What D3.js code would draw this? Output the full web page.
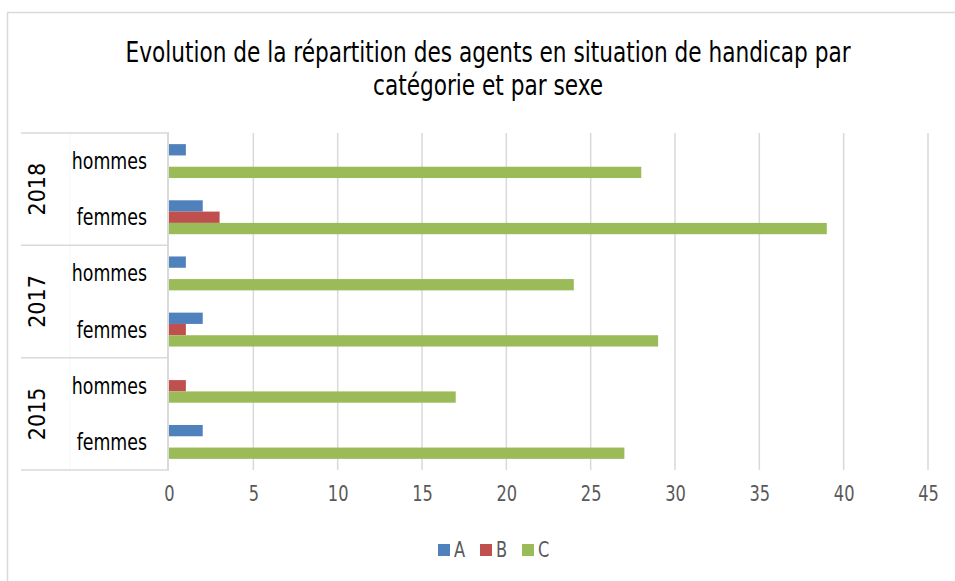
<!DOCTYPE html>
<html lang="fr">
<head>
<meta charset="utf-8">
<title>Handicap</title>
<script src="https://cdnjs.cloudflare.com/ajax/libs/d3/7.8.5/d3.min.js"></script>
<style>
  body { margin: 0; background: #fff; }
  svg text { font-family: "DejaVu Sans Condensed", "Liberation Sans Narrow", sans-serif; }
</style>
</head>
<body>
<div id="chart"></div>
<script>
// data, top of the chart first
const years = ["2018", "2017", "2015"];
const sexes = ["hommes", "femmes"];
const series = ["A", "B", "C"];
const valuesA = [1, 2, 1, 2, 0, 2];
const valuesB = [0, 3, 0, 1, 1, 0];
const valuesC = [28, 39, 24, 29, 17, 27];
const xTicks = [0, 5, 10, 15, 20, 25, 30, 35, 40, 45];
const colors = ["#4f81bd", "#c0504d", "#9bbb59"];

const width = 955, height = 581;
const margin = {left: 169, right: 27, top: 133, bottom: 111};
const squeeze = 0.86; // the original font is narrower than anything installed

const rows = [];
years.forEach(y => sexes.forEach(s => rows.push({year: y, sex: s, key: y + "-" + s})));
rows.forEach((r, i) => { r.A = valuesA[i]; r.B = valuesB[i]; r.C = valuesC[i]; });

const svg = d3.select("#chart").append("svg")
  .attr("width", width).attr("height", height);

// outer border
svg.append("rect")
  .attr("x", 7.5).attr("y", 12.5)
  .attr("width", width).attr("height", height)
  .attr("fill", "none").attr("stroke", "#d9d9d9").attr("stroke-width", 1.5);

// title
const title = svg.append("g")
  .attr("transform", "translate(488,0) scale(0.875,1)")
  .append("text")
  .attr("text-anchor", "middle")
  .attr("font-size", 27.5)
  .attr("fill", "#000");
title.append("tspan").attr("x", 0).attr("y", 62)
  .text("Evolution de la répartition des agents en situation de handicap par");
title.append("tspan").attr("x", 0).attr("y", 95)
  .text("catégorie et par sexe");

const xScale = d3.scaleLinear().domain([0, 45])
  .range([margin.left, width - margin.right]);

const yScale = d3.scaleBand().domain(rows.map(d => d.key))
  .range([margin.top, height - margin.bottom]);

const bw = yScale.bandwidth();
const barH = bw / 4.97;
const inner = d3.scaleBand().domain(series)
  .range([(bw - 3 * barH) / 2, (bw + 3 * barH) / 2]);

// gridlines
svg.append("g").selectAll("line")
  .data(xTicks.slice(1))
  .join("line")
  .attr("x1", d => xScale(d)).attr("x2", d => xScale(d))
  .attr("y1", margin.top).attr("y2", height - margin.bottom)
  .attr("stroke", "#d9d9d9").attr("stroke-width", 1.5);

// x tick labels
const xAxis = d3.axisBottom(xScale).tickValues(xTicks).tickSize(0).tickPadding(16);
const gx = svg.append("g")
  .attr("transform", `translate(0,${height - margin.bottom})`)
  .call(xAxis);
gx.select(".domain").remove();
gx.selectAll("text")
  .attr("font-size", 21)
  .attr("fill", "#595959")
  .attr("transform", `scale(${squeeze},1)`)
  .style("font-family", "\"DejaVu Sans Condensed\", \"Liberation Sans Narrow\", sans-serif");

// bars
const groups = svg.append("g").selectAll("g")
  .data(rows)
  .join("g")
  .attr("transform", d => `translate(0,${yScale(d.key)})`);

groups.selectAll("rect")
  .data(d => series.map((s, i) => ({s: s, v: d[s], c: colors[i]})))
  .join("rect")
  .attr("x", xScale(0))
  .attr("y", d => inner(d.s))
  .attr("width", d => xScale(d.v) - xScale(0))
  .attr("height", inner.bandwidth())
  .attr("fill", d => d.c);

// faint separator between the two label columns
svg.append("line")
  .attr("x1", 70).attr("x2", 70)
  .attr("y1", margin.top).attr("y2", height - margin.bottom)
  .attr("stroke", "#f7f7f7").attr("stroke-width", 1);

// category axis: sex labels
svg.append("g").selectAll("g")
  .data(rows)
  .join("g")
  .attr("transform", d => `translate(147,${yScale(d.key) + bw / 2}) scale(0.84,1)`)
  .append("text")
  .attr("dy", "0.35em")
  .attr("text-anchor", "end")
  .attr("font-size", 23)
  .attr("fill", "#000")
  .text(d => d.sex);

// year group boxes
const yearBox = svg.append("g");
years.forEach((y, i) => {
  const top = yScale(y + "-" + sexes[0]);
  const bottom = yScale(y + "-" + sexes[sexes.length - 1]) + bw;
  yearBox.append("line")
    .attr("x1", 21).attr("x2", margin.left)
    .attr("y1", top).attr("y2", top)
    .attr("stroke", "#d9d9d9").attr("stroke-width", 1.5);
  if (i === years.length - 1) {
    yearBox.append("line")
      .attr("x1", 21).attr("x2", margin.left)
      .attr("y1", bottom).attr("y2", bottom)
      .attr("stroke", "#d9d9d9").attr("stroke-width", 1.5);
  }
  yearBox.append("text")
    .attr("transform", `translate(37,${(top + bottom) / 2}) rotate(-90)`)
    .attr("text-anchor", "middle")
    .attr("dy", "0.35em")
    .attr("font-size", 23)
    .attr("fill", "#000")
    .text(y);
});

// category axis line
svg.append("line")
  .attr("x1", margin.left - 1).attr("x2", margin.left - 1)
  .attr("y1", margin.top).attr("y2", height - margin.bottom)
  .attr("stroke", "#d9d9d9").attr("stroke-width", 2);

// legend
const legend = svg.append("g").attr("transform", "translate(438,550)");
const legendItems = legend.selectAll("g")
  .data(series)
  .join("g")
  .attr("transform", (d, i) => `translate(${i * 42},0)`);
legendItems.append("rect")
  .attr("x", 0).attr("y", -6)
  .attr("width", 12).attr("height", 12)
  .attr("fill", (d, i) => colors[i]);
legendItems.append("text")
  .attr("transform", `translate(16,0) scale(${squeeze},1)`)
  .attr("dy", "0.35em")
  .attr("font-size", 21)
  .attr("fill", "#595959")
  .text(d => d);
</script>
</body>
</html>
